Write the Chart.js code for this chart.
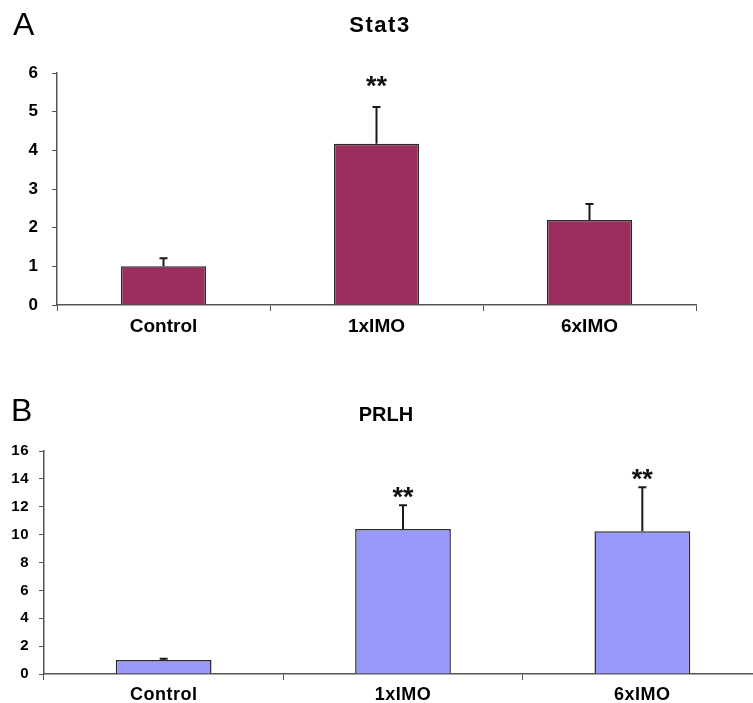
<!DOCTYPE html>
<html>
<head>
<meta charset="utf-8">
<script src="https://cdn.jsdelivr.net/npm/chart.js@4.4.1/dist/chart.umd.min.js"></script>
<style>
  html, body { margin: 0; padding: 0; background: #fff; overflow: hidden; }
  .panel { position: absolute; left: 0; }
</style>
</head>
<body>
<div class="panel" style="top:0;width:753px;height:345px"><canvas id="stat3"></canvas></div>
<div class="panel" style="top:345px;width:770px;height:358px"><canvas id="prlh"></canvas></div>
<script>
// 数据
const groups = ['Control', '1xIMO', '6xIMO'];

const stat3Values = [1.0, 4.17, 2.2];
const stat3Errors = [0.21, 0.95, 0.41];
const stat3Marks = ['', '**', ''];
const stat3Max = 6;

const prlhValues = [1.0, 10.4, 10.25];
const prlhErrors = [0.1, 1.7, 3.15];
const prlhMarks = ['', '**', '**'];
const prlhMax = 16;

Chart.defaults.font.family = "'Liberation Sans', Arial, sans-serif";
Chart.defaults.color = '#000';

/**
 * 文字间距（原图的字体偏宽）
 */
const spacingPlugin = {
  id: 'spacing',
  beforeDraw(chart, args, opts) {
    chart.ctx.letterSpacing = opts.value || '0px';
  }
};

/**
 * 误差线 + 显著性星号
 */
const errorBarPlugin = {
  id: 'errorBars',
  afterDatasetsDraw(chart, args, opts) {
    const ctx = chart.ctx;
    const meta = chart.getDatasetMeta(0);
    const yScale = chart.scales.y;
    ctx.save();
    ctx.letterSpacing = '0px';
    ctx.strokeStyle = '#1a1a1a';
    ctx.lineWidth = 2;
    ctx.fillStyle = '#111';
    ctx.font = "bold 27px 'Liberation Sans', Arial, sans-serif";
    ctx.textAlign = 'center';
    ctx.textBaseline = 'alphabetic';
    meta.data.forEach((bar, i) => {
      const top = yScale.getPixelForValue(opts.values[i] + opts.errors[i]);
      ctx.beginPath();
      ctx.moveTo(bar.x, bar.y);
      ctx.lineTo(bar.x, top);
      ctx.moveTo(bar.x - 4, top);
      ctx.lineTo(bar.x + 4, top);
      ctx.stroke();
      if (opts.marks[i]) {
        ctx.fillText(opts.marks[i], bar.x, top - opts.markGap);
      }
    });
    ctx.restore();
  }
};

/**
 * 面板字母和标题
 */
const headingPlugin = {
  id: 'heading',
  afterDraw(chart, args, opts) {
    const ctx = chart.ctx;
    ctx.save();
    ctx.fillStyle = '#000';
    ctx.textBaseline = 'middle';
    ctx.textAlign = 'left';
    ctx.letterSpacing = '0px';
    ctx.font = "32px 'Liberation Sans', Arial, sans-serif";
    ctx.fillText(opts.letter, opts.letterX, opts.letterY);
    ctx.textAlign = 'center';
    ctx.letterSpacing = opts.titleSpacing;
    ctx.font = "bold " + opts.titleSize + "px 'Liberation Sans', Arial, sans-serif";
    ctx.fillText(opts.title, opts.titleX, opts.titleY);
    ctx.restore();
  }
};

function makeChart(id, cfg) {
  return new Chart(document.getElementById(id), {
    type: 'bar',
    data: {
      labels: groups,
      datasets: [{
        data: cfg.values,
        backgroundColor: cfg.color,
        borderColor: '#2b2b2b',
        borderWidth: 1.5,
        categoryPercentage: 1.0,
        barPercentage: 0.4
      }]
    },
    plugins: [spacingPlugin, errorBarPlugin, headingPlugin],
    options: {
      responsive: true,
      maintainAspectRatio: false,
      animation: false,
      layout: { padding: cfg.padding },
      plugins: {
        legend: { display: false },
        tooltip: { enabled: false },
        spacing: { value: cfg.letterSpacing },
        errorBars: {
          values: cfg.values,
          errors: cfg.errors,
          marks: cfg.marks,
          markGap: cfg.markGap
        },
        heading: cfg.heading
      },
      scales: {
        x: {
          grid: {
            display: true,
            drawOnChartArea: false,
            tickLength: 6,
            color: '#555',
            offset: true
          },
          border: { color: '#555', width: 1.5 },
          ticks: {
            maxRotation: 0,
            font: { size: cfg.xFont, weight: 'bold' },
            padding: 4
          },
          afterFit: (scale) => { scale.height = cfg.xHeight; }
        },
        y: {
          min: 0,
          max: cfg.max,
          grid: {
            display: true,
            drawOnChartArea: false,
            tickLength: 5,
            color: '#555'
          },
          border: { color: '#555', width: 1.5 },
          ticks: {
            stepSize: cfg.step,
            font: { size: cfg.yFont, weight: 'bold' },
            padding: cfg.yPad
          },
          afterFit: (scale) => { scale.width = cfg.yWidth; }
        }
      }
    }
  });
}

makeChart('stat3', {
  values: stat3Values,
  errors: stat3Errors,
  marks: stat3Marks,
  max: stat3Max,
  step: 1,
  color: '#9b2d5f',
  markGap: 12,
  padding: { top: 73, right: 57, bottom: 0, left: 0 },
  xHeight: 40,
  yWidth: 57,
  yPad: 14,
  xFont: 19,
  yFont: 17,
  letterSpacing: '0px',
  heading: { letter: 'A', letterX: 13, letterY: 26, title: 'Stat3', titleX: 380, titleY: 26, titleSize: 22, titleSpacing: '1.5px' }
});

makeChart('prlh', {
  values: prlhValues,
  errors: prlhErrors,
  marks: prlhMarks,
  max: prlhMax,
  step: 2,
  color: '#9999fa',
  markGap: -1,
  padding: { top: 106, right: 8, bottom: 0, left: 0 },
  xHeight: 29,
  yWidth: 44,
  yPad: 10,
  xFont: 18,
  yFont: 15,
  letterSpacing: '0.5px',
  heading: { letter: 'B', letterX: 11, letterY: 67, title: 'PRLH', titleX: 386, titleY: 70, titleSize: 20, titleSpacing: '0px' }
});
</script>
</body>
</html>
